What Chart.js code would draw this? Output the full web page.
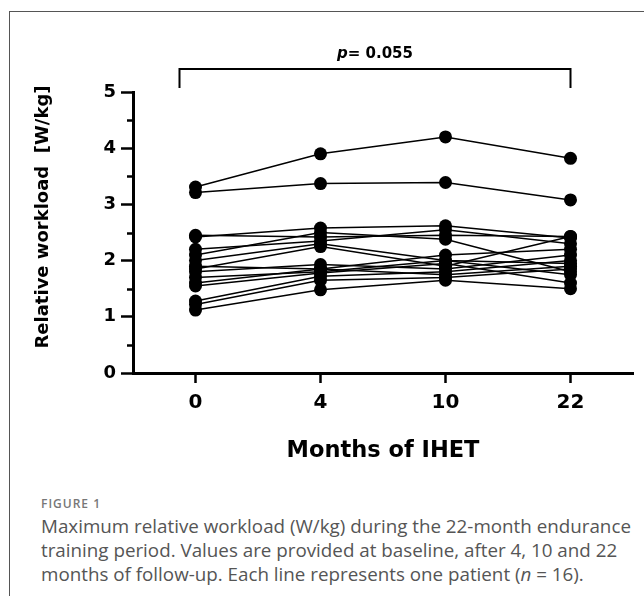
<!DOCTYPE html>
<html>
<head>
<meta charset="utf-8">
<script src="https://cdn.jsdelivr.net/npm/chart.js@4.4.0/dist/chart.umd.min.js"></script>
<style>
  body { margin: 0; width: 644px; height: 596px; background: #fff; position: relative; overflow: hidden; }
  .frame-left { position: absolute; left: 9px; top: 11px; width: 1px; height: 585px; background: #555; }
  .frame-top  { position: absolute; left: 9px; top: 11px; width: 635px; height: 1px; background: #555; }
  #chart { position: absolute; left: 0; top: 0; }
  .fig-label { position: absolute; left: 41px; top: 495px; font: 600 12px "Open Sans"; letter-spacing: 1px; color: #777; }
  .caption { position: absolute; left: 41px; top: 514px; font: 18.8px/24px "Open Sans"; color: #555; white-space: nowrap; }
</style>
</head>
<body>
<div class="frame-top"></div>
<div class="frame-left"></div>
<canvas id="chart" width="644" height="480"></canvas>
<div class="fig-label">FIGURE 1</div>
<div class="caption">
  Maximum relative workload (W/kg) during the 22-month endurance<br>
  training period. Values are provided at baseline, after 4, 10 and 22<br>
  months of follow-up. Each line represents one patient (<i>n</i> = 16).
</div>
<script>
// ─── Data (one value per patient, same order in every array) ──────────
const MONTHS  = ["0", "4", "10", "22"];
const month0  = [3.31, 3.21, 2.45, 2.42, 2.20, 2.10, 2.00, 1.90, 1.85, 1.80, 1.70, 1.60, 1.55, 1.28, 1.22, 1.12];
const month4  = [3.90, 3.37, 2.42, 2.58, 2.35, 2.50, 2.30, 1.85, 2.25, 1.93, 1.80, 1.85, 1.78, 1.72, 1.65, 1.48];
const month10 = [4.20, 3.39, 2.45, 2.62, 2.55, 2.38, 2.00, 2.10, 1.90, 1.85, 2.00, 1.75, 1.95, 1.80, 1.70, 1.65];
const month22 = [3.82, 3.08, 2.43, 2.40, 2.30, 1.80, 1.95, 2.20, 2.43, 2.10, 1.75, 1.90, 1.60, 2.00, 1.85, 1.50];
const Y_MINOR = [0.5, 1.5, 2.5, 3.5, 4.5];

const FONT = '"DejaVu Sans", sans-serif';

const datasets = month0.map((_, i) => ({
  label: "Patient " + (i + 1),
  data: [month0[i], month4[i], month10[i], month22[i]],
  borderColor: "#000",
  backgroundColor: "#000",
  borderWidth: 1.5,
  pointRadius: 6.5,
  pointBorderWidth: 0,
  tension: 0,
}));

// ─── Extras: minor ticks, significance bracket, y title ───────────────
const extras = {
  id: "extras",
  afterDraw(chart) {
    const { ctx, chartArea, scales: { x, y } } = chart;
    ctx.save();
    ctx.strokeStyle = "#000";
    ctx.fillStyle = "#000";

    // minor y ticks
    ctx.lineWidth = 2.5;
    Y_MINOR.forEach((v) => {
      const py = Math.round(y.getPixelForValue(v)) + 0.5;
      ctx.beginPath();
      ctx.moveTo(chartArea.left - 6, py);
      ctx.lineTo(chartArea.left, py);
      ctx.stroke();
    });

    // bracket
    const bx0 = x.getPixelForValue(0) - 16;
    const bx1 = x.getPixelForValue(3);
    const by = 69, bDrop = 19;
    ctx.lineWidth = 2;
    ctx.beginPath();
    ctx.moveTo(bx0, by + bDrop);
    ctx.lineTo(bx0, by);
    ctx.lineTo(bx1, by);
    ctx.lineTo(bx1, by + bDrop);
    ctx.stroke();

    // p value
    const cx = (bx0 + bx1) / 2;
    ctx.textBaseline = "middle";
    ctx.font = "italic bold 15px " + FONT;
    const wP = ctx.measureText("p").width;
    ctx.font = "bold 15px " + FONT;
    const wRest = ctx.measureText("= 0.055").width;
    const startX = cx - (wP + wRest) / 2;
    ctx.textAlign = "left";
    ctx.font = "italic bold 15px " + FONT;
    ctx.fillText("p", startX, 54);
    ctx.font = "bold 15px " + FONT;
    ctx.fillText("= 0.055", startX + wP, 54);

    // y axis title
    ctx.translate(48, 217);
    ctx.rotate(-Math.PI / 2);
    ctx.textAlign = "center";
    ctx.textBaseline = "alphabetic";
    ctx.font = "bold 18px " + FONT;
    ctx.fillText("Relative workload  [W/kg]", 0, 0);
    ctx.restore();
  },
};

new Chart(document.getElementById("chart"), {
  type: "line",
  data: { labels: MONTHS, datasets },
  options: {
    responsive: false,
    animation: false,
    layout: { padding: { top: 92, right: 11, left: 0, bottom: 0 } },
    plugins: { legend: { display: false }, tooltip: { enabled: false } },
    scales: {
      x: {
        type: "category",
        offset: true,
        grid: { offset: false, drawOnChartArea: false, tickLength: 10, tickWidth: 2.5, tickColor: "#000" },
        border: { color: "#000", width: 3 },
        ticks: { color: "#000", font: { family: FONT, size: 20, weight: "bold" }, padding: 8 },
        title: {
          display: true,
          text: "Months of IHET",
          color: "#000",
          font: { family: FONT, size: 22.5, weight: "bold" },
          padding: { bottom: 15 },
        },
        afterFit: (s) => { s.height = 480 - 373; },
      },
      y: {
        min: 0,
        max: 5,
        ticks: { stepSize: 1, color: "#000", font: { family: FONT, size: 18, weight: "bold" }, padding: 5 },
        grid: { drawOnChartArea: false, tickLength: 12, tickWidth: 2.5, tickColor: "#000" },
        border: { color: "#000", width: 3 },
        afterFit: (s) => { s.width = 133; },
      },
    },
  },
  plugins: [extras],
});
</script>
</body>
</html>
